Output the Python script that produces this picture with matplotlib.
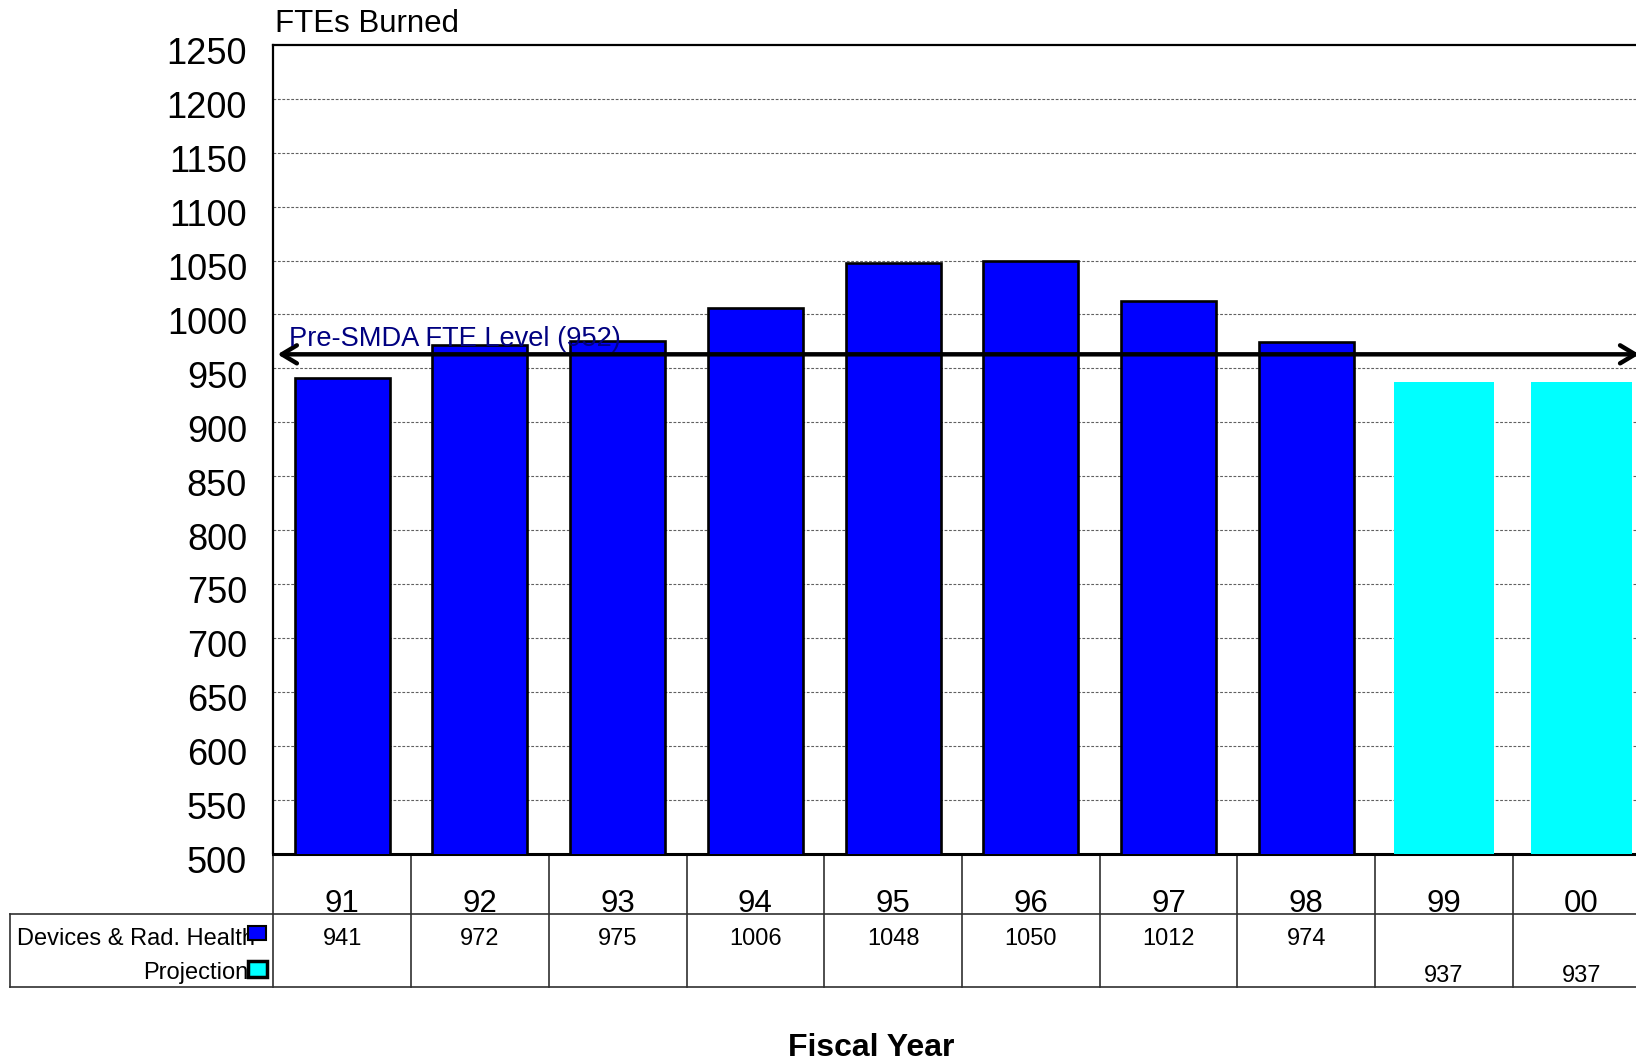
import matplotlib
matplotlib.use("Agg")
import matplotlib.pyplot as plt
from matplotlib.patches import Rectangle
import matplotlib.transforms as mtransforms

plt.rcParams['font.family'] = ['Liberation Sans', 'DejaVu Sans']

# ---- data ----
years = ["91", "92", "93", "94", "95", "96", "97", "98", "99", "00"]
actual_values = [941, 972, 975, 1006, 1048, 1050, 1012, 974]
projection_values = [937, 937]
series_names = ["Devices & Rad. Health", "Projection"]
yticks = [500, 550, 600, 650, 700, 750, 800, 850, 900, 950, 1000, 1050, 1100, 1150, 1200, 1250]
ref_label = "Pre-SMDA FTE Level (952)"
ref_line_level = 963   # where the arrow is drawn in the picture
title_text = "FTEs Burned"
xlabel_text = "Fiscal Year"

BLUE = "#0000FF"
CYAN = "#00FFFF"

fig = plt.figure(figsize=(16.36, 10.6), dpi=100)
ax = fig.add_axes([273.4 / 1636, 1 - 853.5 / 1060, 1377 / 1636, (853.5 - 44.9) / 1060])

n_act = len(actual_values)
x_act = list(range(n_act))
x_proj = list(range(n_act, n_act + len(projection_values)))

ax.bar(x_act, actual_values, width=0.69, color=BLUE, edgecolor="black", linewidth=1.9, zorder=3)
ax.bar(x_proj, projection_values, width=0.73, color=CYAN, edgecolor="none", zorder=3)

ax.set_xlim(-0.5, len(years) - 0.5)
ax.set_ylim(500, 1250)
ax.set_yticks(yticks)
ax.set_yticklabels([str(v) for v in yticks], fontsize=26)
ax.tick_params(axis="y", length=0, pad=19)
ax.set_xticks([])
shift = mtransforms.ScaledTranslation(0, -0.06, fig.dpi_scale_trans)
for lab in ax.get_yticklabels():
    lab.set_transform(lab.get_transform() + shift)

for v in yticks[1:-1]:
    ax.axhline(v, color="#606060", lw=0.8, ls=(0, (2.5, 1.5)), zorder=1)

for side in ["left", "top"]:
    ax.spines[side].set_linewidth(1.6)
    ax.spines[side].set_color("black")
ax.spines["bottom"].set_linewidth(2.2)
ax.spines["right"].set_visible(False)

# reference arrow
ax.annotate("", xy=(-0.47, ref_line_level), xytext=(9.42, ref_line_level),
            arrowprops=dict(arrowstyle="<->,head_length=0.6,head_width=0.36",
                            lw=3.2, color="black", shrinkA=0, shrinkB=0,
                            mutation_scale=18), zorder=5)
ax.text(-0.385, 971, ref_label, color="#000080", fontsize=19.6, va="baseline",
        ha="left", zorder=6)

# title
ax.text(0.0012, 1.0163, title_text, transform=ax.transAxes, fontsize=22.5,
        va="baseline", ha="left")

# ---- data table below the axes ----
trans = mtransforms.blended_transform_factory(ax.transData, ax.transAxes)
y_line1 = -0.0754
y_line2 = -0.1647
x_left = -0.191
grid_col = "#303030"

# horizontal lines
ax.plot([x_left, 1.0], [y_line1, y_line1], transform=ax.transAxes, color=grid_col,
        lw=1.2, clip_on=False)
ax.plot([x_left, 1.0], [y_line2, y_line2], transform=ax.transAxes, color=grid_col,
        lw=1.2, clip_on=False)
ax.plot([x_left, x_left], [y_line1, y_line2], transform=ax.transAxes, color=grid_col,
        lw=1.2, clip_on=False)
# left spine extension
ax.plot([0, 0], [0, y_line2], transform=ax.transAxes, color=grid_col, lw=1.2, clip_on=False)
# column separators
for i in range(len(years)):
    ax.plot([i + 0.5, i + 0.5], [0, y_line2], transform=trans, color=grid_col,
            lw=1.2, clip_on=False)

# category labels
for i, yr in enumerate(years):
    ax.text(i, -0.072, yr, transform=trans, ha="center", va="baseline", fontsize=22.5,
            clip_on=False)

# values
for i, v in zip(x_act, actual_values):
    ax.text(i, -0.1131, str(v), transform=trans, ha="center", va="baseline",
            fontsize=17, clip_on=False)
for i, v in zip(x_proj, projection_values):
    ax.text(i, -0.1585, str(v), transform=trans, ha="center", va="baseline",
            fontsize=17, clip_on=False)

# row labels
ax.text(-0.0135, -0.1131, series_names[0], transform=ax.transAxes, ha="right",
        va="baseline", fontsize=17, clip_on=False)
ax.text(-0.0185, -0.1556, series_names[1], transform=ax.transAxes, ha="right",
        va="baseline", fontsize=17, clip_on=False)

# legend keys
px_w = 1377.0
px_h = 808.6
def key(x0, x1, y0, y1, color, lw):
    r = Rectangle(((x0 - 273.4) / px_w, (853.5 - y1) / px_h),
                  (x1 - x0) / px_w, (y1 - y0) / px_h,
                  transform=ax.transAxes, facecolor=color, edgecolor="black",
                  linewidth=lw, clip_on=False, zorder=6)
    ax.add_patch(r)

key(248, 266, 926, 940, BLUE, 1.5)
key(248, 267, 961, 977, CYAN, 2.5)

# x label
fig.text(870.7 / 1636, 0.004, xlabel_text, ha="center", va="baseline",
         fontsize=23, fontweight="bold")

fig.savefig("out.png", dpi=100)
